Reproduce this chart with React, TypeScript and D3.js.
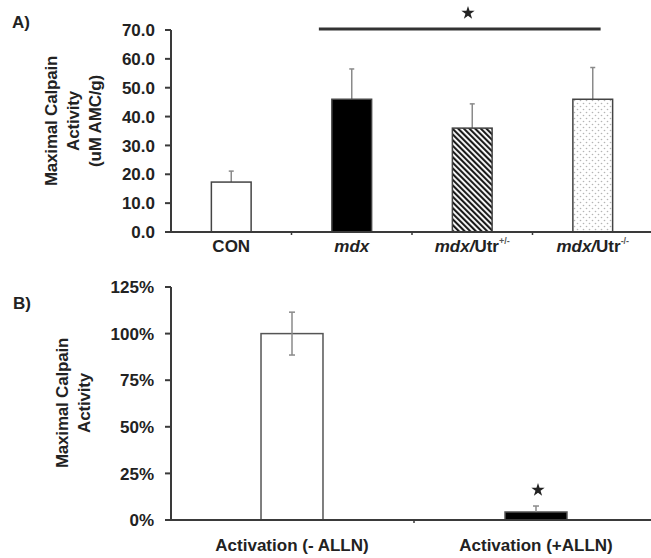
import React from 'react';
import * as d3 from 'd3';

// Panel A data
const catsA = ['CON', 'mdx', 'mdx/Utr+/-', 'mdx/Utr-/-'];
const meansA = [17.3, 46.0, 36.0, 46.0];
const errsA = [3.8, 10.5, 8.4, 11.0];
const ticksA = [0, 10, 20, 30, 40, 50, 60, 70];

// Panel B data
const catsB = ['Activation (- ALLN)', 'Activation (+ALLN)'];
const meansB = [1.0, 0.043];
const errsB = [0.115, 0.032];
const ticksB = [0, 0.25, 0.5, 0.75, 1.0, 1.25];

const FONT = '"Liberation Sans", Arial, sans-serif';
const AXIS = '#3a3a3a';
const ERR = '#8a8a8a';

export default function App() {
  const W = 651, H = 558;

  const xA = d3.scaleBand<string>().domain(catsA).range([171, 653]).paddingInner(0.67).paddingOuter(0.335);
  const yA = d3.scaleLinear().domain([0, 70]).range([232, 30]);
  const xB = d3.scaleBand<string>().domain(catsB).range([170, 658]).paddingInner(0.746).paddingOuter(0.373);
  const yB = d3.scaleLinear().domain([0, 1.25]).range([520, 287]);

  const fillsA = ['#ffffff', '#000000', 'url(#hatch)', 'url(#dots)'];
  const fillsB = ['#ffffff', '#000000'];
  const star = d3.symbol().type(d3.symbolStar).size(55)() as string;

  const stepA = xA.step();
  const stepB = xB.step();

  const renderLabelA = (c: string) => {
    const cx = (xA(c) as number) + xA.bandwidth() / 2;
    const y = 252;
    if (c === 'CON') {
      return <text key={c} x={cx} y={y} textAnchor="middle" fontSize={17} fontWeight="bold" fill="#222">CON</text>;
    }
    if (c === 'mdx') {
      return <text key={c} x={cx} y={y} textAnchor="middle" fontSize={17} fontWeight="bold" fontStyle="italic" fill="#222">mdx</text>;
    }
    const sup = c.slice(7);
    return (
      <text key={c} x={cx} y={y} textAnchor="middle" fontSize={17} fontWeight="bold" fill="#222">
        <tspan fontStyle="italic">mdx/</tspan>
        <tspan>Utr</tspan>
        <tspan fontSize={9} dy={-8} fill="#555">{sup}</tspan>
      </text>
    );
  };

  return (
    <svg width={W} height={H} style={{ position: 'absolute', left: 0, top: 0, background: '#fff' }} fontFamily={FONT}>
      <defs>
        <pattern id="hatch" width={4} height={4} patternUnits="userSpaceOnUse" patternTransform="rotate(-45)">
          <rect width={4} height={4} fill="#fff" />
          <rect width={2.1} height={4} fill="#1a1a1a" />
        </pattern>
        <pattern id="dots" width={6} height={6} patternUnits="userSpaceOnUse">
          <rect width={6} height={6} fill="#fff" />
          <circle cx={1.5} cy={1.5} r={0.8} fill="#b5b5b5" />
          <circle cx={4.5} cy={4.5} r={0.8} fill="#b5b5b5" />
        </pattern>
      </defs>
      <rect width={W} height={H} fill="#fff" />

      {/* ===== Panel A ===== */}
      <text x={12} y={28} fontSize={17} fontWeight="bold" fill="#222">A)</text>
      <g transform="translate(75,121) rotate(-90)" fontSize={17} fontWeight="bold" fill="#222" textAnchor="middle" letterSpacing={-0.2}>
        <text x={0} y={-18}>Maximal Calpain</text>
        <text x={0} y={4}>Activity</text>
        <text x={0} y={26}>(uM AMC/g)</text>
      </g>
      {ticksA.map(t => (
        <g key={t}>
          <line x1={165} x2={171} y1={yA(t)} y2={yA(t)} stroke={AXIS} strokeWidth={2} />
          <text x={155} y={yA(t)} dy="0.36em" textAnchor="end" fontSize={17} fontWeight="bold" fill="#222">{t.toFixed(1)}</text>
        </g>
      ))}
      {meansA.map((m, i) => {
        const c = catsA[i];
        const x0 = xA(c) as number;
        const cx = x0 + xA.bandwidth() / 2;
        return (
          <g key={c}>
            <line x1={cx} x2={cx} y1={yA(m)} y2={yA(m + errsA[i])} stroke={ERR} strokeWidth={1.5} />
            <line x1={cx - 2.5} x2={cx + 2.5} y1={yA(m + errsA[i])} y2={yA(m + errsA[i])} stroke={ERR} strokeWidth={1.5} />
            <rect x={x0} y={yA(m)} width={xA.bandwidth()} height={yA(0) - yA(m)} fill={fillsA[i]} stroke="#444" strokeWidth={1.5} />
          </g>
        );
      })}
      <line x1={171} x2={171} y1={yA(70)} y2={yA(0) + 1} stroke={AXIS} strokeWidth={2} />
      <line x1={171} x2={653} y1={yA(0)} y2={yA(0)} stroke={AXIS} strokeWidth={2} />
      {catsA.slice(1).map((c) => (
        <line key={c} x1={xA(c) as number - (stepA - xA.bandwidth()) / 2} x2={xA(c) as number - (stepA - xA.bandwidth()) / 2} y1={yA(0)} y2={yA(0) + 3} stroke={AXIS} strokeWidth={1.5} />
      ))}
      {catsA.map(renderLabelA)}
      <line x1={(xA('mdx') as number) - 13} x2={(xA('mdx/Utr-/-') as number) + xA.bandwidth() - 12} y1={yA(70) - 1} y2={yA(70) - 1} stroke="#333" strokeWidth={3} />
      <path d={star} transform={`translate(468,13)`} fill="#222" />

      {/* ===== Panel B ===== */}
      <text x={13} y={309} fontSize={17} fontWeight="bold" fill="#222">B)</text>
      <g transform="translate(74,403) rotate(-90)" fontSize={17} fontWeight="bold" fill="#222" textAnchor="middle" letterSpacing={-0.2}>
        <text x={0} y={-6}>Maximal Calpain</text>
        <text x={0} y={16}>Activity</text>
      </g>
      {ticksB.map(t => (
        <g key={t}>
          <line x1={165} x2={171} y1={yB(t)} y2={yB(t)} stroke={AXIS} strokeWidth={2} />
          <text x={154} y={yB(t)} dy="0.36em" textAnchor="end" fontSize={17} fontWeight="bold" fill="#222">{`${Math.round(t * 100)}%`}</text>
        </g>
      ))}
      {meansB.map((m, i) => {
        const c = catsB[i];
        const x0 = xB(c) as number;
        const cx = x0 + xB.bandwidth() / 2;
        const both = i === 0;
        return (
          <g key={c}>
            <rect x={x0} y={yB(m)} width={xB.bandwidth()} height={yB(0) - yB(m)} fill={fillsB[i]} stroke="#555" strokeWidth={1.5} />
            <line x1={cx} x2={cx} y1={both ? yB(m - errsB[i]) : yB(m)} y2={yB(m + errsB[i])} stroke={ERR} strokeWidth={1.5} />
            <line x1={cx - 3} x2={cx + 3} y1={yB(m + errsB[i])} y2={yB(m + errsB[i])} stroke={ERR} strokeWidth={1.5} />
            {both && <line x1={cx - 3} x2={cx + 3} y1={yB(m - errsB[i])} y2={yB(m - errsB[i])} stroke={ERR} strokeWidth={1.5} />}
            <text x={cx} y={551} textAnchor="middle" fontSize={17} fontWeight="bold" fill="#222">{c}</text>
          </g>
        );
      })}
      <line x1={171} x2={171} y1={yB(1.25)} y2={yB(0) + 1} stroke={AXIS} strokeWidth={2} />
      <line x1={171} x2={658} y1={yB(0)} y2={yB(0)} stroke={AXIS} strokeWidth={2} />
      <line x1={(xB(catsB[1]) as number) - (stepB - xB.bandwidth()) / 2} x2={(xB(catsB[1]) as number) - (stepB - xB.bandwidth()) / 2} y1={yB(0)} y2={yB(0) + 3} stroke={AXIS} strokeWidth={1.5} />
      <path d={star} transform={`translate(538,490)`} fill="#222" />
    </svg>
  );
}
